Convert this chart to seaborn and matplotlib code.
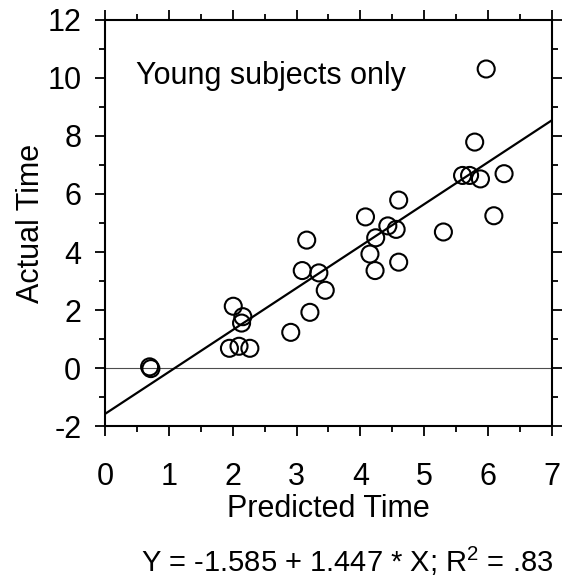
import matplotlib
matplotlib.use("Agg")
import matplotlib.pyplot as plt
import seaborn as sns
import numpy as np
import pandas as pd
from matplotlib.ticker import MultipleLocator

predicted = [0.70, 0.72, 2.01, 2.16, 2.14, 1.95, 2.10, 2.27, 2.91, 3.21,
             3.09, 3.16, 3.35, 3.45, 4.08, 4.24, 4.15, 4.23, 4.43, 4.56,
             4.60, 4.60, 5.30, 5.60, 5.71, 5.88, 5.79, 6.25, 6.09, 5.97]
actual = [0.04, -0.02, 2.13, 1.77, 1.55, 0.68, 0.75, 0.68, 1.23, 1.92,
          3.36, 4.41, 3.28, 2.68, 5.21, 4.49, 3.93, 3.36, 4.90, 4.78,
          5.79, 3.65, 4.69, 6.64, 6.64, 6.52, 7.79, 6.70, 5.25, 10.31]
intercept = -1.585
slope = 1.447
x_range = [0, 7]
y_range = [-2, 12]
x_ticks = [0, 1, 2, 3, 4, 5, 6, 7]
y_ticks = [-2, 0, 2, 4, 6, 8, 10, 12]

sns.set_style("white")
plt.rcParams['font.family'] = ['Liberation Sans', 'DejaVu Sans']
plt.rcParams['mathtext.fontset'] = 'custom'
plt.rcParams['mathtext.rm'] = 'Liberation Sans'
plt.rcParams['axes.unicode_minus'] = False
plt.rcParams['text.color'] = 'black'
plt.rcParams['axes.labelcolor'] = 'black'
plt.rcParams['xtick.color'] = 'black'
plt.rcParams['ytick.color'] = 'black'

fig = plt.figure(figsize=(5.67, 5.79), dpi=100)
ax = fig.add_axes([0.185, 0.2642, 0.9735 - 0.185, 0.9655 - 0.2642])

df = pd.DataFrame({"Predicted Time": predicted, "Actual Time": actual})

ax.axhline(0, color='0.3', lw=0.8, zorder=1)

line_x = np.array(x_range, dtype=float)
line_df = pd.DataFrame({"x": line_x, "y": intercept + slope * line_x})
sns.lineplot(data=line_df, x="x", y="y", color='black', lw=1.6, ax=ax, zorder=2)

sns.scatterplot(data=df, x="Predicted Time", y="Actual Time", ax=ax,
                marker='o', s=150, facecolor='none', edgecolor='black',
                linewidth=1.5, zorder=3)

ax.set_xlim(*x_range)
ax.set_ylim(*y_range)
ax.set_xticks(x_ticks)
ax.set_yticks(y_ticks)
ax.xaxis.set_minor_locator(MultipleLocator(0.5))
ax.yaxis.set_minor_locator(MultipleLocator(1))

for s in ax.spines.values():
    s.set_visible(True)
    s.set_color('black')
    s.set_linewidth(1.5)

ax.tick_params(which='both', direction='out', top=True, right=True,
               bottom=True, left=True, color='black', width=1.3,
               labeltop=False, labelright=False, labelcolor='black')
ax.tick_params(which='major', length=7, labelsize=22)
ax.tick_params(which='minor', length=4)
ax.tick_params(axis='x', which='major', pad=19)
ax.tick_params(axis='y', which='major', pad=10)

ax.set_xlabel("Predicted Time", fontsize=22, labelpad=1, color='black')
ax.set_ylabel("Actual Time", fontsize=22, labelpad=1, color='black')

ax.text(0.485, 10.06, "Young subjects only", fontsize=22, va='center',
        ha='left', color='black')

fig.text(0.612, 0.030, r"Y = -1.585 + 1.447 * X; $\mathregular{R^2}$ = .83",
         fontsize=21, ha='center', va='center', color='black')

fig.savefig("out.png", dpi=100)
